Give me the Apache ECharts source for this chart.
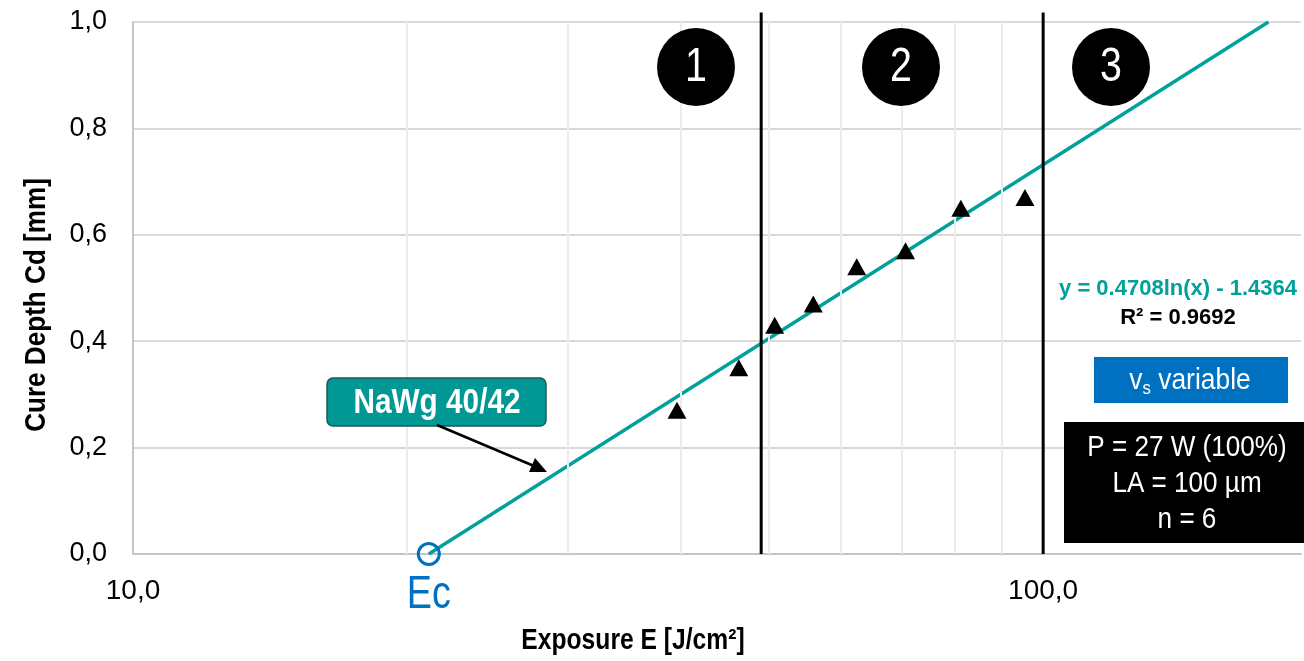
<!DOCTYPE html>
<html>
<head>
<meta charset="utf-8">
<script src="https://cdn.jsdelivr.net/npm/echarts@6/dist/echarts.min.js"></script>
<style>
  html, body { margin: 0; padding: 0; background: #ffffff; }
  #chart { width: 1304px; height: 661px; }
</style>
</head>
<body>
<div id="chart"></div>
<script>
// Measured cure depth vs. exposure (NaWg 40/42)
const exposure  = [39.6, 46.3, 50.7, 55.9, 62.4, 70.6, 81.2, 95.5];   // J/cm²
const cureDepth = [0.27, 0.35, 0.43, 0.47, 0.54, 0.57, 0.65, 0.67];   // mm

// Logarithmic fit  Cd = a·ln(E) + b
const fitSlope = 0.4708;
const fitIntercept = -1.4364;
const fitR2 = 0.9692;

// Region boundaries and their labels
const zoneBounds = [49, 100];
const zoneLabels = ['1', '2', '3'];

// Minor grid positions on the log axis and the labelled decades
const minorGrid = [20, 30, 40, 50, 60, 70, 80, 90];
const xTickLabels = [10, 100];

// Process parameters
const sampleName = 'NaWg 40/42';
const processLines = ['P = 27 W (100%)', 'LA = 100 µm', 'n = 6'];

const FONT = "'Liberation Sans', Arial, sans-serif";
const NARROW = 0.82;           // horizontal squeeze for condensed lettering
const TEAL = '#00A09B';
const BLUE = '#0070C0';

// Critical exposure (Cd = 0) and the exposure where the fit reaches the top of the axis
const ec = Math.exp(-fitIntercept / fitSlope);
const eTop = Math.exp((1 - fitIntercept) / fitSlope);

const fmtComma = (v, d) => v.toFixed(d).replace('.', ',');

const chart = echarts.init(document.getElementById('chart'), null, { renderer: 'canvas' });

const series = [
  {
    // minor vertical grid lines of the log axis
    type: 'line', data: [], silent: true, z: 1,
    markLine: {
      silent: true, symbol: ['none', 'none'], label: { show: false },
      lineStyle: { color: '#ececec', width: 2, type: 'solid' },
      data: minorGrid.map(v => ({ xAxis: v }))
    }
  },
  {
    // minor tick marks just below the category axis
    type: 'line', data: [], silent: true, z: 2, clip: false,
    markLine: {
      silent: true, symbol: ['none', 'none'], label: { show: false },
      lineStyle: { color: '#c6c6c6', width: 2, type: 'solid' },
      data: minorGrid.map(v => [{ coord: [v, 0] }, { coord: [v, -0.008] }])
    }
  },
  {
    name: 'fit', type: 'line', z: 3, symbol: 'none', silent: true,
    lineStyle: { color: TEAL, width: 3.4 },
    data: [[ec, 0], [eTop, 1]]
  },
  ...zoneBounds.map(b => ({
    type: 'line', z: 4, symbol: 'none', silent: true, clip: false,
    lineStyle: { color: '#000000', width: 3 },
    data: [[b, 0], [b, 1.018]]
  })),
  {
    name: 'Cd', type: 'scatter', z: 5, symbol: 'triangle', symbolSize: [19, 17],
    itemStyle: { color: '#000000', opacity: 1 },
    data: exposure.map((e, i) => [e, cureDepth[i]])
  },
  {
    name: 'Ec', type: 'scatter', z: 6, clip: false, symbol: 'circle', symbolSize: 21,
    itemStyle: { color: 'rgba(255,255,255,0)', borderColor: BLUE, borderWidth: 3, opacity: 1 },
    data: [[ec, 0]]
  }
];

chart.setOption({
  animation: false,
  backgroundColor: '#ffffff',
  grid: { left: 133, right: 0, top: 22, bottom: 107, containLabel: false },
  xAxis: {
    type: 'log', logBase: 10, min: 10, max: 192,
    axisLine: { show: true, lineStyle: { color: '#c6c6c6', width: 2 } },
    axisTick: { show: false },
    splitLine: { show: false },
    minorTick: { show: false },
    axisLabel: {
      margin: 23, fontFamily: FONT, fontSize: 28, color: '#000000',
      formatter: v => xTickLabels.some(t => Math.abs(t - v) < 1e-6 * t) ? fmtComma(v, 1) : ''
    }
  },
  yAxis: {
    type: 'value', min: 0, max: 1, interval: 0.2,
    axisLine: { show: true, lineStyle: { color: '#c6c6c6', width: 2 } },
    axisTick: { show: false },
    splitLine: { show: true, lineStyle: { color: '#d9d9d9', width: 2 } },
    axisLabel: {
      margin: 26, fontFamily: FONT, fontSize: 27, color: '#000000',
      formatter: v => fmtComma(v, 1)
    }
  },
  series: series
});

// centred text helper with optional horizontal squeeze
const txt = (x, y, text, font, fill, sx, extra) => Object.assign({
  type: 'text', z: 120, x: x, y: y, scaleX: sx,
  style: { text: text, fill: fill, font: font, align: 'center', verticalAlign: 'middle' }
}, extra || {});

// Numbered region markers
const zoneCenters = [696, 901, 1111];
const graphics = [];
zoneLabels.forEach((t, i) => {
  graphics.push(
    { type: 'circle', z: 110, shape: { cx: zoneCenters[i], cy: 67, r: 39 }, style: { fill: '#000000' } },
    txt(zoneCenters[i], 68, t, `48px ${FONT}`, '#ffffff', NARROW)
  );
});

// Critical exposure label under its marker
const ecPx = chart.convertToPixel({ gridIndex: 0 }, [ec, 0]);
graphics.push(txt(ecPx[0], ecPx[1] + 41, 'Ec', `46px ${FONT}`, BLUE, NARROW));

graphics.push(
  // sample label with arrow
  { type: 'rect', z: 110, shape: { x: 327, y: 378, width: 219, height: 48, r: 6 },
    style: { fill: '#009894', stroke: '#1f5856', lineWidth: 1.5 } },
  txt(437, 403, sampleName, `bold 35px ${FONT}`, '#ffffff', 0.85),
  { type: 'line', z: 110, shape: { x1: 437, y1: 425, x2: 534, y2: 466 }, style: { stroke: '#000000', lineWidth: 2.5 } },
  { type: 'polygon', z: 110, shape: { points: [[547, 472], [529, 472], [535, 458]] }, style: { fill: '#000000' } },

  // fit equation
  txt(1178, 289, `y = ${fitSlope.toFixed(4)}ln(x) - ${Math.abs(fitIntercept).toFixed(4)}`, `bold 22px ${FONT}`, TEAL, 1),
  txt(1178, 318, `R² = ${fitR2.toFixed(4)}`, `bold 22px ${FONT}`, '#000000', 1),

  // scan speed note
  { type: 'rect', z: 110, shape: { x: 1094, y: 357, width: 194, height: 46 }, style: { fill: BLUE } },
  {
    type: 'text', z: 120, x: 1190, y: 381, scaleX: 0.88,
    style: {
      text: '{m|v}{s|s}{m| variable}', align: 'center', verticalAlign: 'middle',
      rich: {
        m: { fill: '#ffffff', font: `30px ${FONT}`, verticalAlign: 'middle' },
        s: { fill: '#ffffff', font: `19px ${FONT}`, padding: [16, 0, 0, 0], verticalAlign: 'bottom' }
      }
    }
  },

  // process parameters
  { type: 'rect', z: 110, shape: { x: 1064, y: 422, width: 260, height: 121 }, style: { fill: '#000000' } },
  ...processLines.map((t, i) => txt(1187, 448 + i * 36, t, `29px ${FONT}`, '#ffffff', 0.9)),

  // axis titles
  txt(633, 641, 'Exposure E [J/cm²]', `bold 29px ${FONT}`, '#000000', 0.85),
  txt(37, 305, 'Cure Depth Cd [mm]', `bold 29px ${FONT}`, '#000000', 0.9, { rotation: Math.PI / 2 })
);

chart.setOption({ graphic: graphics });
</script>
</body>
</html>
